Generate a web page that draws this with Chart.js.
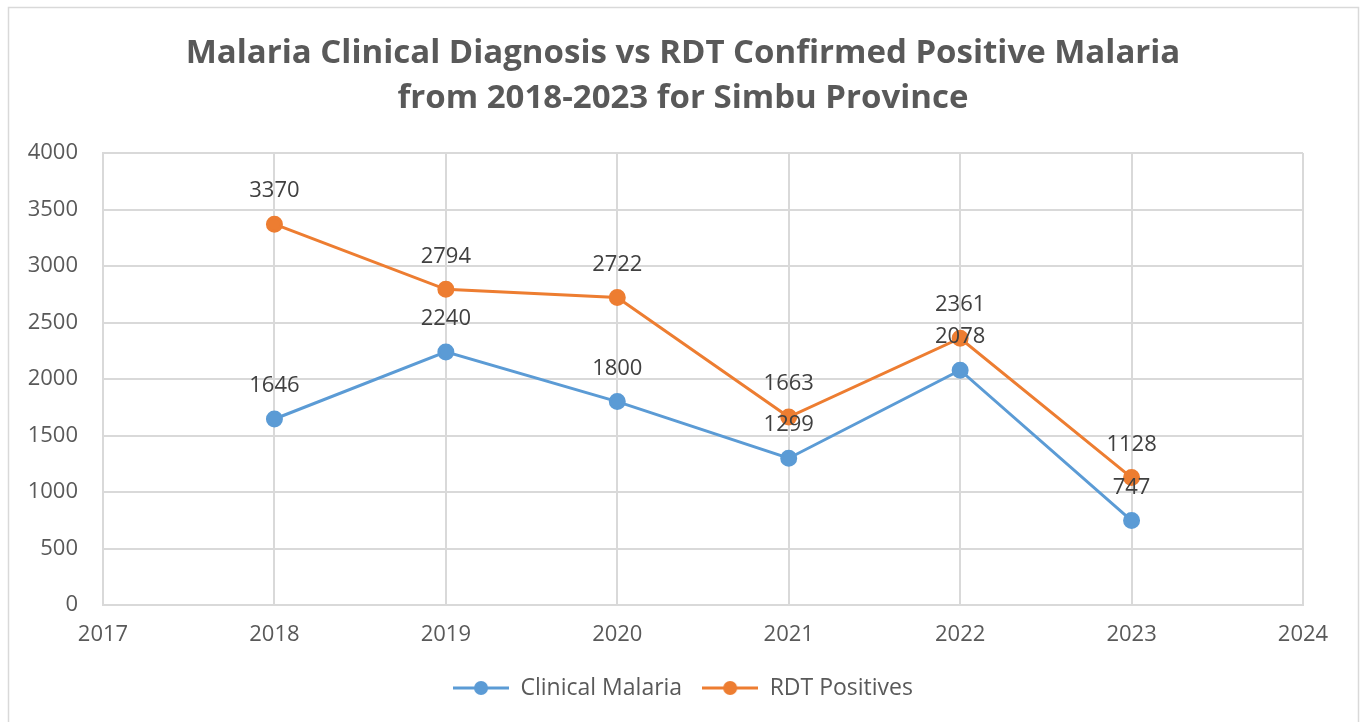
<!DOCTYPE html>
<html>
<head>
<meta charset="utf-8">
<title>Malaria Clinical Diagnosis vs RDT Confirmed Positive Malaria</title>
<script src="https://cdn.jsdelivr.net/npm/chart.js@4"></script>
<style>
  html, body { margin: 0; padding: 0; background: #fff; }
  #wrap { position: relative; width: 1366px; height: 722px; }
</style>
</head>
<body>
<div id="wrap"><canvas id="malariaChart" width="1366" height="722"></canvas></div>
<script>
/* ---- data ---- */
const years        = [2018, 2019, 2020, 2021, 2022, 2023];
const clinical     = [1646, 2240, 1800, 1299, 2078, 747];
const rdtPositives = [3370, 2794, 2722, 1663, 2361, 1128];
const seriesNames  = ['Clinical Malaria', 'RDT Positives'];
const titleLines   = ['Malaria Clinical Diagnosis vs RDT Confirmed Positive Malaria',
                      'from 2018-2023 for Simbu Province'];

const C_BLUE   = '#5b9bd5';
const C_ORANGE = '#ed7d31';
const C_GRID   = '#d9d9d9';
const C_TEXT   = '#595959';

Chart.defaults.font.family = "'Open Sans', 'Noto Sans', sans-serif";

// legend marker: short line with a dot in the middle, like the office look
function lineDot(color) {
  const c = document.createElement('canvas');
  c.width = 56; c.height = 16;
  const g = c.getContext('2d');
  g.strokeStyle = color; g.lineWidth = 3;
  g.beginPath(); g.moveTo(0, 8); g.lineTo(56, 8); g.stroke();
  g.fillStyle = color;
  g.beginPath(); g.arc(28, 8, 7, 0, Math.PI * 2); g.fill();
  return c;
}

const frame = {
  id: 'frame',
  beforeDraw(chart) {
    const ctx = chart.ctx;
    ctx.save();
    ctx.strokeStyle = C_GRID;
    ctx.lineWidth = 1.5;
    ctx.strokeRect(8.5, 7.5, 1350, 730);
    ctx.restore();
  }
};

const valueLabels = {
  id: 'valueLabels',
  afterDatasetsDraw(chart) {
    const ctx = chart.ctx;
    ctx.save();
    ctx.font = "22px 'Open Sans', 'Noto Sans', sans-serif";
    ctx.fillStyle = '#404040';
    ctx.textAlign = 'center';
    ctx.textBaseline = 'middle';
    chart.data.datasets.forEach((ds, i) => {
      chart.getDatasetMeta(i).data.forEach((pt, j) => {
        ctx.fillText(String(ds.data[j].y), pt.x, pt.y - 33);
      });
    });
    ctx.restore();
  }
};

const toXY = arr => arr.map((v, i) => ({ x: years[i], y: v }));

new Chart(document.getElementById('malariaChart'), {
  type: 'line',
  data: {
    datasets: [
      { label: seriesNames[0], data: toXY(clinical), borderColor: C_BLUE, backgroundColor: C_BLUE,
        borderWidth: 3, pointRadius: 7, pointHoverRadius: 7, pointStyle: 'circle', tension: 0 },
      { label: seriesNames[1], data: toXY(rdtPositives), borderColor: C_ORANGE, backgroundColor: C_ORANGE,
        borderWidth: 3, pointRadius: 7, pointHoverRadius: 7, pointStyle: 'circle', tension: 0 }
    ]
  },
  options: {
    responsive: false,
    animation: false,
    layout: { padding: { top: 10, left: 10, right: 10, bottom: 12.5 } },
    plugins: {
      title: {
        display: true,
        text: titleLines,
        color: C_TEXT,
        font: { size: 33, weight: 'bold', lineHeight: 1.364 },
        padding: { top: 21.5, bottom: 31.5 }
      },
      legend: {
        position: 'bottom',
        labels: {
          usePointStyle: true,
          pointStyleWidth: 56,
          color: C_TEXT,
          font: { size: 23 },
          padding: 20,
          generateLabels(chart) {
            return chart.data.datasets.map((ds, i) => ({
              text: ds.label,
              pointStyle: lineDot(ds.borderColor),
              fillStyle: ds.borderColor,
              strokeStyle: ds.borderColor,
              lineWidth: 0,
              fontColor: C_TEXT,
              datasetIndex: i,
              hidden: false
            }));
          }
        }
      },
      tooltip: { enabled: false }
    },
    scales: {
      x: {
        type: 'linear',
        min: 2017, max: 2024,
        grid: { color: C_GRID, lineWidth: 2, drawTicks: false },
        border: { color: C_GRID, width: 2 },
        ticks: { stepSize: 1, color: C_TEXT, font: { size: 22 }, padding: 17,
                 callback: v => String(v) },
        afterFit(scale) { scale.height = 51.5; }
      },
      y: {
        min: 0, max: 4000,
        grid: { color: C_GRID, lineWidth: 2, drawTicks: false },
        border: { color: C_GRID, width: 2 },
        ticks: { stepSize: 500, color: C_TEXT, font: { size: 22 }, padding: 25,
                 callback: v => String(v) },
        afterFit(scale) { scale.width = 93; }
      },
      // empty right-hand gutter so title and legend centre on the whole box
      gutter: {
        position: 'right',
        min: 0, max: 1,
        grid: { display: false },
        border: { display: false },
        ticks: { display: false },
        afterFit(scale) { scale.width = 53; }
      }
    }
  },
  plugins: [frame, valueLabels]
});
</script>
</body>
</html>
